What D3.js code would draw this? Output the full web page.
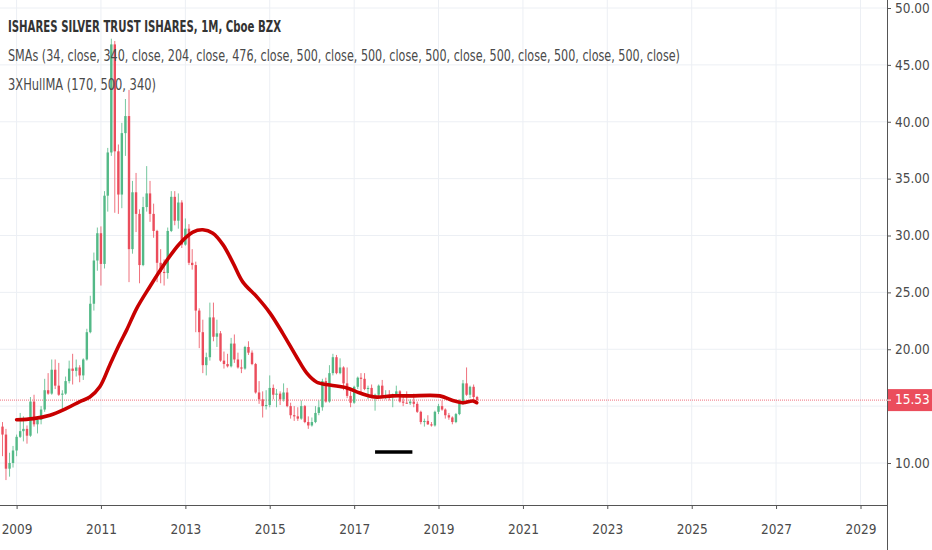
<!DOCTYPE html>
<html>
<head>
<meta charset="utf-8">
<script src="https://cdn.jsdelivr.net/npm/d3@7"></script>
<style>
body { margin: 0; background: #ffffff; }
</style>
</head>
<body>
<script>
// monthly candles of SLV, first bar is Sep 2008
var firstMonth = '2008-09'
var opens = [
  13.2, 12.5, 9.5, 10.0,
  11.1, 12.3, 12.8, 13.0, 12.4, 15.4, 13.4, 13.8, 14.7, 16.4, 16.1, 18.2,
  16.8, 16.0, 16.1, 17.2, 18.3, 18.1, 18.4, 17.7, 19.1, 21.5, 24.0, 27.8,
  30.2, 27.5, 33.5, 37.3, 46.8, 37.4, 33.6, 39.0, 40.5, 28.8, 33.8, 31.9,
  27.4, 32.5, 33.7, 31.9, 30.4, 27.6, 26.8, 26.7, 30.4, 33.4, 31.3, 32.9,
  29.2, 30.6, 27.6, 27.4, 23.4, 21.5, 18.6, 19.3, 22.8, 21.1, 21.4, 19.0,
  18.7, 18.5, 20.5, 19.1, 18.4, 18.3, 20.2, 19.7, 18.7, 16.2, 15.6, 15.0,
  15.1, 16.6, 16.0, 16.1, 15.6, 16.2, 15.0, 14.2, 14.1, 13.9, 15.0, 13.6,
  13.3, 13.6, 14.4, 14.9, 17.2, 15.4, 17.9, 19.3, 17.9, 18.4, 17.0, 15.9,
  15.3, 16.7, 17.5, 17.4, 16.5, 16.6, 15.9, 16.0, 16.8, 15.9, 15.95, 15.8,
  16.0, 16.3, 15.4, 15.3, 15.25, 15.4, 15.2, 14.5, 13.6, 13.7, 13.4, 13.3,
  14.5, 15.0, 14.7, 14.2, 14.0, 13.6, 14.3, 15.25, 17.0, 16.0, 16.7, 15.8
]
var highs = [
  13.6, 13.0, 10.9, 11.5,
  12.5, 14.4, 14.1, 13.3, 15.8, 16.0, 14.1, 15.0, 17.4, 17.9, 19.1, 19.1,
  18.8, 16.4, 17.6, 19.0, 19.6, 19.1, 18.6, 19.2, 21.8, 24.7, 28.5, 30.7,
  30.8, 33.9, 37.7, 47.3, 47.1, 38.0, 39.9, 42.0, 42.8, 34.8, 35.5, 32.3,
  33.4, 36.1, 34.8, 32.8, 30.5, 28.8, 27.9, 30.7, 33.9, 33.9, 33.7, 33.1,
  31.5, 31.0, 28.8, 27.7, 23.6, 22.6, 19.7, 24.1, 24.1, 22.6, 21.6, 19.8,
  19.6, 21.0, 21.3, 19.7, 19.1, 20.3, 20.7, 19.9, 18.8, 17.2, 16.3, 16.4,
  17.7, 16.9, 16.5, 16.3, 17.0, 16.6, 15.3, 15.0, 14.9, 15.5, 15.1, 14.1,
  14.0, 15.0, 15.5, 17.4, 17.5, 18.6, 19.6, 19.5, 19.2, 18.5, 18.4, 16.3,
  16.8, 17.6, 17.9, 17.9, 16.8, 16.9, 16.1, 16.9, 17.3, 16.4, 16.4, 16.1,
  16.8, 16.4, 15.9, 16.3, 15.6, 16.1, 15.4, 14.6, 13.9, 14.2, 13.6, 14.6,
  15.2, 15.5, 14.8, 14.4, 14.1, 14.4, 15.6, 17.3, 18.4, 16.8, 16.9, 15.9
]
var lows = [
  10.6, 8.5, 8.8, 9.6,
  10.6, 12.2, 11.9, 11.7, 12.3, 13.2, 12.6, 13.4, 14.5, 16.0, 16.0, 16.5,
  15.9, 14.6, 16.0, 17.0, 16.9, 17.6, 17.1, 17.3, 19.0, 21.4, 23.4, 26.9,
  25.6, 27.1, 32.1, 37.0, 32.0, 31.9, 32.4, 37.0, 25.9, 28.4, 30.3, 25.8,
  27.3, 32.1, 31.2, 29.8, 25.9, 25.8, 25.6, 26.2, 30.3, 30.9, 30.6, 28.9,
  29.1, 27.4, 27.0, 21.5, 20.1, 17.9, 17.7, 19.0, 20.7, 20.2, 18.9, 18.3,
  18.4, 18.4, 18.8, 18.3, 17.9, 18.2, 19.5, 18.6, 16.1, 15.2, 14.0, 14.7,
  14.9, 15.6, 14.9, 15.1, 15.4, 14.9, 13.9, 13.7, 13.7, 13.8, 13.5, 13.0,
  13.2, 13.5, 14.2, 14.6, 15.3, 15.3, 17.7, 17.8, 17.8, 16.4, 15.7, 14.9,
  15.2, 16.5, 16.1, 16.4, 15.6, 15.7, 14.6, 15.7, 15.8, 15.6, 15.5, 14.9,
  15.9, 15.3, 15.0, 15.2, 15.1, 14.9, 14.4, 13.4, 13.2, 13.35, 13.2, 13.2,
  14.3, 14.6, 13.9, 13.8, 13.4, 13.5, 14.2, 15.1, 15.9, 15.7, 15.5, 15.4
]
var closes = [
  12.5, 9.5, 10.0, 11.1,
  12.3, 12.8, 13.0, 12.4, 15.4, 13.4, 13.8, 14.7, 16.4, 16.1, 18.2, 16.8,
  16.0, 16.1, 17.2, 18.3, 18.1, 18.4, 17.7, 19.1, 21.5, 24.0, 27.8, 30.2,
  27.5, 33.5, 37.3, 46.8, 37.4, 33.6, 39.0, 40.5, 28.8, 33.8, 31.9, 27.4,
  32.5, 33.7, 31.9, 30.4, 27.6, 26.8, 26.7, 30.4, 33.4, 31.3, 32.9, 29.2,
  30.6, 27.6, 27.4, 23.4, 21.5, 18.6, 19.3, 22.8, 21.1, 21.4, 19.0, 18.7,
  18.5, 20.5, 19.1, 18.4, 18.3, 20.2, 19.7, 18.7, 16.2, 15.6, 15.0, 15.1,
  16.6, 16.0, 16.1, 15.6, 16.2, 15.0, 14.2, 14.1, 13.9, 15.0, 13.6, 13.3,
  13.6, 14.4, 14.9, 17.2, 15.4, 17.9, 19.3, 17.9, 18.4, 17.0, 15.9, 15.3,
  16.7, 17.5, 17.4, 16.5, 16.6, 15.9, 16.0, 16.8, 15.9, 15.95, 15.8, 16.0,
  16.3, 15.4, 15.3, 15.25, 15.4, 15.2, 14.5, 13.6, 13.7, 13.4, 13.3, 14.5,
  15.0, 14.7, 14.2, 14.0, 13.6, 14.3, 15.25, 17.0, 16.0, 16.7, 15.8, 15.53
]

// 3XHullMA line
var hmaDates = ['2009-01-01', '2009-05-25', '2009-10-17', '2010-03-09', '2010-07-02', '2010-09-27',
  '2010-12-22', '2011-03-18', '2011-06-13', '2011-08-12', '2011-11-07', '2012-02-28', '2012-07-24',
  '2012-11-14', '2013-03-07', '2013-06-01', '2013-08-27', '2013-11-22', '2014-02-17', '2014-05-14',
  '2014-09-12', '2015-01-02', '2015-04-24', '2015-08-23', '2015-11-18', '2016-02-13', '2016-06-05',
  '2016-10-30', '2017-02-19', '2017-06-29', '2017-12-01', '2018-04-27', '2019-01-12', '2019-05-04',
  '2019-07-30', '2019-10-25', '2019-11-28']
var hmaValues = [13.8, 13.9, 14.2, 14.8, 15.4, 15.8,
  16.7, 18.6, 20.5, 21.7, 23.6, 25.5, 27.8,
  29.3, 30.3, 30.5, 30.2, 29.2, 27.6, 25.9,
  24.6, 23.2, 21.4, 19.3, 17.9, 17.1, 16.85,
  16.6, 16.15, 15.8, 15.9, 15.9, 15.9, 15.5,
  15.3, 15.45, 15.3]

// black drawn segment under 2017-2018
var markDates = ['2017-07-01', '2018-05-20']
var markValue = 10.97

var tickYears = [2009, 2011, 2013, 2015, 2017, 2019, 2021, 2023, 2025, 2027, 2029]
var priceTicks = [10, 15, 20, 25, 30, 35, 40, 45, 50]

var titleText = 'ISHARES SILVER TRUST ISHARES, 1M, Cboe BZX'
var smaText = 'SMAs (34, close, 340, close, 204, close, 476, close, 500, close, 500, close, 500, close, 500, close, 500, close, 500, close)'
var hullText = '3XHullMA (170, 500, 340)'

var width = 932
var height = 550
var plotRight = 887
var plotBottom = 505
var upColor = '#53b987'
var downColor = '#eb4d5c'
var font = "'Liberation Sans Narrow', 'DejaVu Sans Condensed', 'Open Sans', sans-serif"

var parseMonth = d3.timeParse('%Y-%m')
var parseDay = d3.timeParse('%Y-%m-%d')
var start = parseMonth(firstMonth)
var bars = closes.map(function(c, i) {
  return {date: d3.timeMonth.offset(start, i), o: opens[i], h: highs[i], l: lows[i], c: c}
})

var x = d3.scaleTime()
  .domain([new Date(2009, 0, 1), new Date(2029, 0, 1)])
  .range([16.6, 860.5])
var y = d3.scaleLinear()
  .domain([10, 50])
  .range([463, 8])

var svg = d3.select('body')
  .append('svg')
  .attr('width', width)
  .attr('height', height)
  .style('font-family', font)

svg.append('rect').attr('width', width).attr('height', height).attr('fill', '#ffffff')

svg.append('defs').append('clipPath').attr('id', 'plot')
  .append('rect').attr('x', 0).attr('y', 0).attr('width', plotRight).attr('height', plotBottom)

var plot = svg.append('g').attr('clip-path', 'url(#plot)')

// grid
plot.selectAll('line.vgrid')
  .data(tickYears)
  .enter().append('line')
  .attr('class', 'vgrid')
  .attr('x1', function(d) { return x(new Date(d, 0, 1)) })
  .attr('x2', function(d) { return x(new Date(d, 0, 1)) })
  .attr('y1', 0)
  .attr('y2', plotBottom)
  .attr('stroke', '#eceff4')
  .attr('stroke-width', 1)
plot.selectAll('line.hgrid')
  .data(priceTicks)
  .enter().append('line')
  .attr('class', 'hgrid')
  .attr('x1', 0)
  .attr('x2', plotRight)
  .attr('y1', function(d) { return y(d) })
  .attr('y2', function(d) { return y(d) })
  .attr('stroke', '#eceff4')
  .attr('stroke-width', 1)

// last price line
var last = closes[closes.length - 1]
plot.append('line')
  .attr('x1', 0)
  .attr('x2', plotRight)
  .attr('y1', y(last))
  .attr('y2', y(last))
  .attr('stroke', '#f0707c')
  .attr('stroke-width', 1)
  .attr('stroke-dasharray', '1,1')

// candles
var bodyW = 2.4
var candle = plot.selectAll('g.candle')
  .data(bars)
  .enter().append('g')
  .attr('class', 'candle')
candle.append('line')
  .attr('x1', function(d) { return x(d.date) })
  .attr('x2', function(d) { return x(d.date) })
  .attr('y1', function(d) { return y(d.h) })
  .attr('y2', function(d) { return y(d.l) })
  .attr('stroke', function(d) { return d.c >= d.o ? upColor : downColor })
  .attr('stroke-width', 0.8)
candle.append('rect')
  .attr('x', function(d) { return x(d.date) - bodyW / 2 })
  .attr('y', function(d) { return y(Math.max(d.o, d.c)) })
  .attr('width', bodyW)
  .attr('height', function(d) { return Math.max(1, Math.abs(y(d.o) - y(d.c))) })
  .attr('fill', function(d) { return d.c >= d.o ? upColor : downColor })

// hull ma
var hma = hmaDates.map(function(s, i) { return {date: parseDay(s), v: hmaValues[i]} })
plot.append('path')
  .datum(hma)
  .attr('fill', 'none')
  .attr('stroke', '#c80000')
  .attr('stroke-width', 3.6)
  .attr('stroke-linejoin', 'round')
  .attr('stroke-linecap', 'round')
  .attr('d', d3.line()
    .x(function(d) { return x(d.date) })
    .y(function(d) { return y(d.v) })
    .curve(d3.curveCatmullRom.alpha(0.5)))

plot.append('line')
  .attr('x1', x(parseDay(markDates[0])))
  .attr('x2', x(parseDay(markDates[1])))
  .attr('y1', y(markValue))
  .attr('y2', y(markValue))
  .attr('stroke', '#000000')
  .attr('stroke-width', 3.6)

// axes
var xAxis = d3.axisBottom(x)
  .tickValues(tickYears.map(function(d) { return new Date(d, 0, 1) }))
  .tickFormat(d3.timeFormat('%Y'))
  .tickSize(4)
  .tickSizeOuter(0)
var gx = svg.append('g')
  .attr('transform', 'translate(0,' + plotBottom + ')')
  .call(xAxis)
gx.select('.domain').attr('d', 'M0,0.5H' + plotRight).attr('stroke', '#555555')
gx.selectAll('.tick line').attr('stroke', '#555555')
gx.selectAll('.tick text')
  .attr('y', 19)
  .attr('fill', '#4a4a4a')
  .style('font-family', font)
  .style('font-size', '13.5px')

var last = closes[closes.length - 1]
var yAxis = d3.axisRight(y)
  .tickValues(priceTicks)
  .tickFormat(d3.format('.2f'))
  .tickSize(4)
  .tickSizeOuter(0)
var gy = svg.append('g')
  .attr('transform', 'translate(' + plotRight + ',0)')
  .call(yAxis)
gy.select('.domain').attr('d', 'M0.5,0V' + height).attr('stroke', '#555555')
gy.selectAll('.tick line').attr('stroke', '#555555')
gy.selectAll('.tick text')
  .attr('x', 8)
  .attr('fill', '#4a4a4a')
  .style('font-family', font)
  .style('font-size', '13.5px')
// the price tag hides the label that sits under it
gy.selectAll('.tick')
  .filter(function(d) { return Math.abs(y(d) - y(last)) < 14 })
  .select('text').remove()

// last price label
var tag = svg.append('g').attr('transform', 'translate(' + plotRight + ',' + y(last) + ')')
tag.append('rect')
  .attr('x', 1)
  .attr('y', -11)
  .attr('width', width - plotRight)
  .attr('height', 22)
  .attr('fill', '#eb4d5c')
tag.append('line')
  .attr('x1', 0).attr('x2', 4)
  .attr('stroke', '#ffffff')
tag.append('text')
  .attr('x', 8)
  .attr('dy', '0.32em')
  .attr('fill', '#ffffff')
  .style('font-size', '13.5px')
  .text(d3.format('.2f')(last))

// legend texts
svg.append('text')
  .attr('x', 8)
  .attr('y', 32)
  .attr('fill', '#333333')
  .attr('font-weight', 'bold')
  .attr('textLength', 273)
  .attr('lengthAdjust', 'spacingAndGlyphs')
  .style('font-size', '15.5px')
  .text(titleText)
svg.append('text')
  .attr('x', 8)
  .attr('y', 61)
  .attr('fill', '#4a4a4a')
  .attr('textLength', 672)
  .attr('lengthAdjust', 'spacingAndGlyphs')
  .style('font-size', '15.5px')
  .text(smaText)
svg.append('text')
  .attr('x', 8)
  .attr('y', 90)
  .attr('fill', '#4a4a4a')
  .attr('textLength', 148)
  .attr('lengthAdjust', 'spacingAndGlyphs')
  .style('font-size', '15.5px')
  .text(hullText)
</script>
</body>
</html>
